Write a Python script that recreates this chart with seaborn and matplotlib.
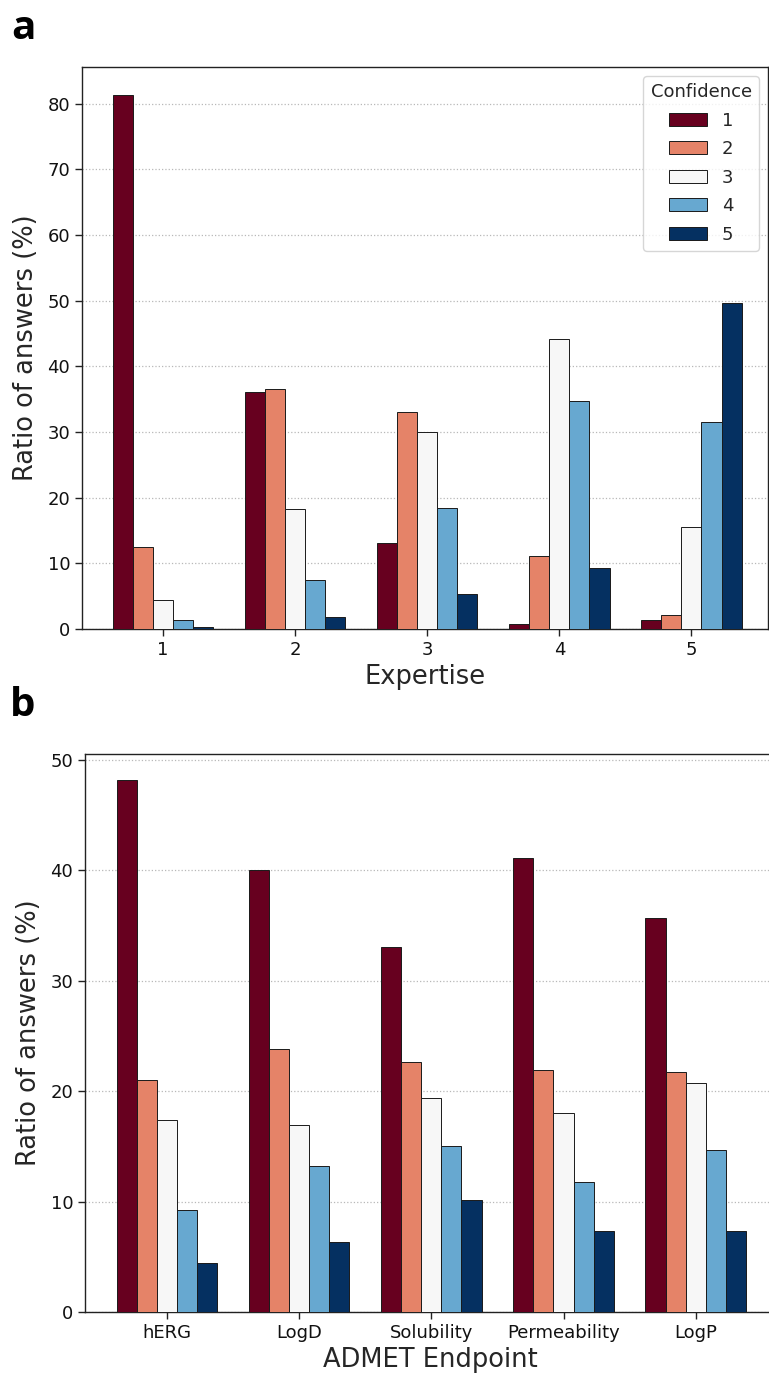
import matplotlib
matplotlib.use("Agg")
import matplotlib.pyplot as plt
import seaborn as sns
import pandas as pd

confidence_levels = ["1", "2", "3", "4", "5"]

expertise_levels = ["1", "2", "3", "4", "5"]
# rows: expertise, columns: confidence 1..5
expertise_values = [
    [81.4, 12.5, 4.4, 1.4, 0.3],
    [36.1, 36.5, 18.3, 7.4, 1.8],
    [13.1, 33.1, 30.0, 18.5, 5.3],
    [0.8, 11.1, 44.2, 34.7, 9.3],
    [1.4, 2.1, 15.5, 31.5, 49.6],
]

endpoints = ["hERG", "LogD", "Solubility", "Permeability", "LogP"]
endpoint_values = [
    [48.2, 21.0, 17.4, 9.2, 4.4],
    [40.0, 23.8, 16.9, 13.2, 6.3],
    [33.1, 22.6, 19.4, 15.0, 10.1],
    [41.1, 21.9, 18.0, 11.8, 7.3],
    [35.7, 21.7, 20.7, 14.7, 7.3],
]

palette = ["#67001f", "#e58368", "#f7f7f7", "#67a8d0", "#053061"]


def long_df(cats, values, catname):
    rows = []
    for c, vals in zip(cats, values):
        for conf, v in zip(confidence_levels, vals):
            rows.append({catname: c, "Confidence": conf, "value": v})
    return pd.DataFrame(rows)


sns.set_theme(style="ticks")
plt.rcParams["font.family"] = ["DejaVu Sans"]

W, H = 769, 1376
fig = plt.figure(figsize=(W / 100, H / 100), dpi=100)


def box(l, t, r, b):
    return [l / W, 1 - b / H, (r - l) / W, (b - t) / H]


ax1 = fig.add_axes(box(82, 67, 768, 629))
ax2 = fig.add_axes(box(85, 754, 775, 1312))

df1 = long_df(expertise_levels, expertise_values, "Expertise")
df2 = long_df(endpoints, endpoint_values, "ADMET Endpoint")

for ax, df, xname, ymax, yticks, xlim in [
    (ax1, df1, "Expertise", 85.6, range(0, 90, 10), (-0.614, 4.58)),
    (ax2, df2, "ADMET Endpoint", 50.54, range(0, 60, 10), (-0.62, 4.6)),
]:
    sns.barplot(data=df, x=xname, y="value", hue="Confidence",
                hue_order=confidence_levels, palette=palette, ax=ax,
                width=0.76, edgecolor="#1a1a1a", linewidth=0.7,
                saturation=1, errorbar=None, zorder=3)
    ax.set_xlim(*xlim)
    ax.set_ylim(0, ymax)
    ax.set_yticks(list(yticks))
    ax.yaxis.grid(True, linestyle=":", color="#b8b8b8", linewidth=0.9, zorder=0)
    ax.set_axisbelow(True)
    ax.set_xlabel(xname, fontsize=18.5, labelpad=4)
    ax.set_ylabel("Ratio of answers (%)", fontsize=18.5, labelpad=6)
    ax.tick_params(axis="both", labelsize=13, length=5, width=1.0, color="#222222",
                   labelcolor="#111111")
    for s in ax.spines.values():
        s.set_linewidth(1.0)
        s.set_color("#222222")

ax1.legend(title="Confidence", loc="upper right", fontsize=13, title_fontsize=13,
           frameon=True, handlelength=2.1, handleheight=0.72, labelspacing=0.58,
           borderaxespad=0.5, fancybox=True, edgecolor="#cccccc")
ax2.get_legend().remove()

fig.text(11 / W, 1 - 39 / H, "a", fontsize=29, fontweight="bold",
         family="Open Sans", ha="left", va="baseline", color="black")
fig.text(10 / W, 1 - 716 / H, "b", fontsize=29, fontweight="bold",
         family="Open Sans", ha="left", va="baseline", color="black")

fig.savefig("out.png", dpi=100)
